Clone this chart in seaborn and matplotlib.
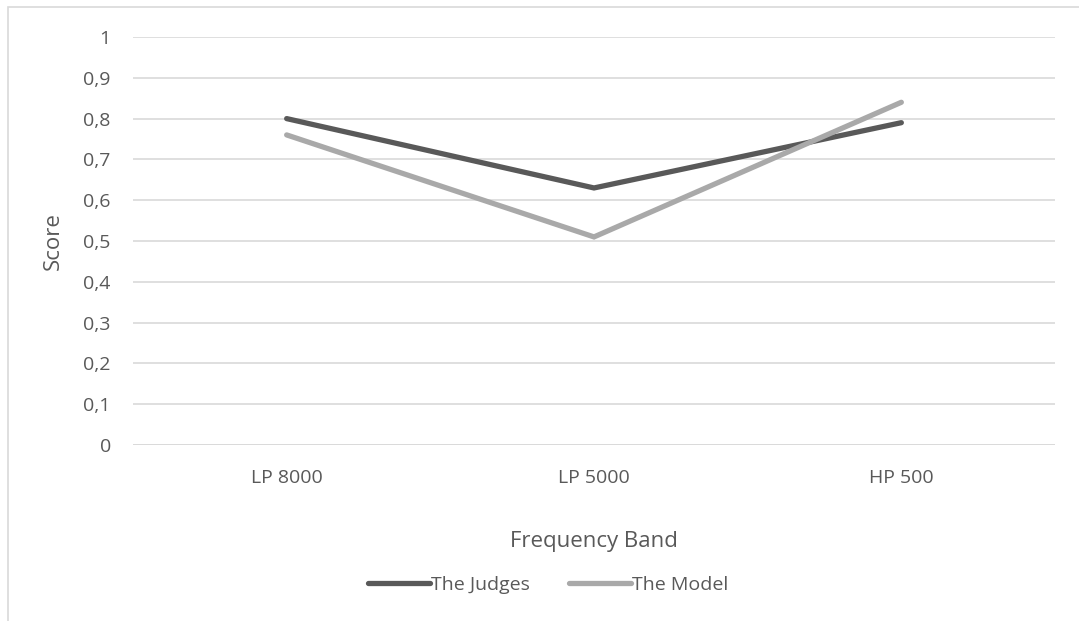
import matplotlib
matplotlib.use("Agg")
import matplotlib.pyplot as plt
import seaborn as sns
import pandas as pd
from matplotlib.patches import Rectangle

bands = ["LP 8000", "LP 5000", "HP 500"]
judges = [0.80, 0.63, 0.79]
model = [0.76, 0.51, 0.84]
series_names = ["The Judges", "The Model"]
y_ticks = [0, 0.1, 0.2, 0.3, 0.4, 0.5, 0.6, 0.7, 0.8, 0.9, 1]

sns.set_theme(style="white")
plt.rcParams["font.family"] = ["Open Sans", "DejaVu Sans"]

text_color = "#595959"
grid_color = "#D9D9D9"
colors = {series_names[0]: "#595959", series_names[1]: "#A9A9A9"}

df = pd.DataFrame({
    "band": bands * 2,
    "pos": list(range(len(bands))) * 2,
    "score": judges + model,
    "series": [series_names[0]] * len(bands) + [series_names[1]] * len(bands),
})

fig = plt.figure(figsize=(10.79, 6.21), dpi=100)
ax = fig.add_axes([133 / 1079, 1 - 445 / 621, (1055 - 133) / 1079, (445 - 37) / 621])

# outer chart border
fig.patches.append(Rectangle((8 / 1079, -0.05), 1.2, 1 - 7 / 621 + 0.05,
                             transform=fig.transFigure, fill=False,
                             edgecolor="#D9D9D9", linewidth=1.2))

sns.lineplot(data=df, x="pos", y="score", hue="series", ax=ax,
             palette=colors, linewidth=3.8, solid_capstyle="round",
             solid_joinstyle="miter", legend=False, zorder=3)

ax.set_xlim(-0.5, len(bands) - 0.5)
ax.set_ylim(0, 1)
ax.set_xticks(range(len(bands)))
ax.set_xticklabels(bands)
ax.set_yticks(y_ticks)
ax.set_yticklabels([f"{v:g}".replace(".", ",") for v in y_ticks])
ax.tick_params(axis="both", length=0, labelsize=14, labelcolor=text_color)
ax.tick_params(axis="y", pad=16)
ax.tick_params(axis="x", pad=17)
ax.yaxis.grid(True, color=grid_color, linewidth=1.2)
ax.xaxis.grid(False)
for s in ax.spines.values():
    s.set_visible(False)
ax.axhline(0, color=grid_color, linewidth=1.2, zorder=1)

ax.set_xlabel("Frequency Band", fontsize=16, color=text_color, labelpad=32)
ax.set_ylabel("Score", fontsize=16, color=text_color, labelpad=14)

handles = [plt.Line2D([], [], color=colors[n], linewidth=3.8, solid_capstyle="round")
           for n in series_names]
fig.legend(handles, series_names, loc="center", bbox_to_anchor=(0.508, 1 - 585 / 621),
           ncol=2, frameon=False, fontsize=14, labelcolor=text_color,
           handlelength=3.2, handletextpad=0.05, columnspacing=2.0)

fig.savefig("out.png", dpi=100, facecolor="white")
